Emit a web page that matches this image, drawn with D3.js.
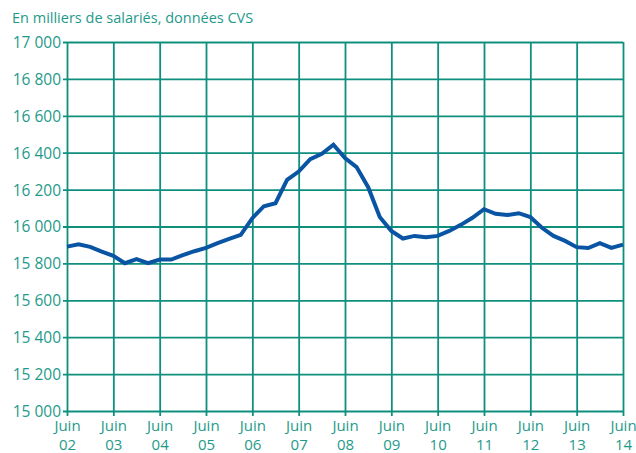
<!DOCTYPE html>
<html>
<head>
<meta charset="utf-8">
<script src="https://cdn.jsdelivr.net/npm/d3@7"></script>
<style>
  body { margin: 0; background: #fff; }
  text { font-family: "Open Sans", "Noto Sans", sans-serif; fill: #1f9a8a; }
</style>
</head>
<body>
<svg id="chart" width="636" height="453"></svg>
<script>
// quarterly values, juin 2002 -> juin 2014 (milliers de salariés, CVS)
var values = [15891, 15904, 15890, 15864, 15841, 15801, 15823, 15801, 15821, 15821,
              15845, 15866, 15884, 15910, 15933, 15955, 16045, 16110, 16126, 16253,
              16298, 16365, 16394, 16443, 16371, 16322, 16213, 16051, 15976, 15935,
              15949, 15942, 15949, 15976, 16009, 16047, 16094, 16069, 16062, 16072,
              16051, 15993, 15949, 15922, 15888, 15883, 15910, 15884, 15902];
var yearLabels = ["02", "03", "04", "05", "06", "07", "08", "09", "10", "11", "12", "13", "14"];
var yTicks = [15000, 15200, 15400, 15600, 15800, 16000, 16200, 16400, 16600, 16800, 17000];

var svg = d3.select("#chart"),
    plotLeft = 67, plotRight = 623, plotTop = 42, plotBottom = 411,
    width = plotRight - plotLeft,
    height = plotBottom - plotTop,
    gridColor = "#0e8f7e";

var fr = d3.formatLocale({ decimal: ",", thousands: "\u00a0", grouping: [3], currency: ["", " €"] });
var fmt = fr.format(",d");

var x = d3.scaleLinear().domain([0, values.length - 1]).range([0, width]);
var y = d3.scaleLinear().domain([15000, 17000]).range([height, 0]);

var g = svg.append("g").attr("transform", "translate(" + plotLeft + "," + plotTop + ")");

svg.append("text")
    .attr("x", 12)
    .attr("y", 23)
    .style("font-size", "14.5px")
    .text("En milliers de salariés, données CVS");

// horizontal grid + y labels
var yAxis = g.append("g")
    .call(d3.axisLeft(y).tickValues(yTicks).tickSizeInner(-width).tickSizeOuter(0).tickPadding(8).tickFormat(fmt));
yAxis.select(".domain").remove();
yAxis.selectAll(".tick line")
    .attr("x1", -4)
    .attr("stroke", gridColor)
    .attr("stroke-width", 1.8);
yAxis.selectAll(".tick text")
    .attr("x", -6)
    .attr("dy", "0.35em")
    .style("font-size", "15.5px")
    .style("font-family", "'Open Sans', sans-serif")
    .attr("fill", "#1f9a8a");

// vertical grid + x labels
var yearIdx = yearLabels.map(function(d, i) { return i * 4; });
var xAxis = g.append("g")
    .attr("transform", "translate(0," + height + ")")
    .call(d3.axisBottom(x).tickValues(yearIdx).tickSizeInner(-height).tickSizeOuter(0).tickFormat(""));
xAxis.select(".domain").remove();
xAxis.selectAll(".tick line")
    .attr("y1", 5)
    .attr("stroke", gridColor)
    .attr("stroke-width", 1.8);
xAxis.selectAll(".tick text").remove();

var lbl = xAxis.selectAll(".tick").append("text")
    .attr("text-anchor", "middle")
    .attr("fill", "#1f9a8a")
    .style("font-size", "15px")
    .style("font-family", "'Open Sans', sans-serif");
lbl.append("tspan").attr("x", 0).attr("y", 20).text("Juin");
lbl.append("tspan").attr("x", 0).attr("y", 39).text(function(d, i) { return yearLabels[i]; });

// series
var line = d3.line()
    .x(function(d, i) { return x(i); })
    .y(function(d) { return y(d); });

g.append("path")
    .datum(values)
    .attr("fill", "none")
    .attr("stroke", "#0a55a3")
    .attr("stroke-width", 4)
    .attr("stroke-linejoin", "miter")
    .attr("d", line);
</script>
</body>
</html>
